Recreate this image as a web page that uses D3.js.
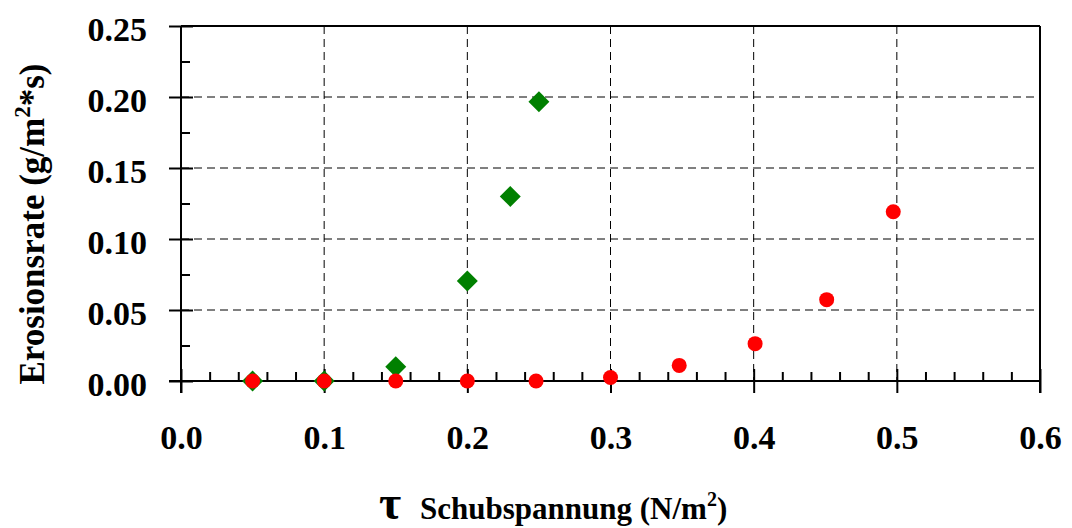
<!DOCTYPE html>
<html>
<head>
<meta charset="utf-8">
<script src="https://cdn.jsdelivr.net/npm/d3@7"></script>
<style>
  html, body { margin: 0; padding: 0; background: #fff; }
  svg { display: block; }
  text { font-family: "Liberation Serif", "Times New Roman", serif; font-weight: bold; fill: #000; }
</style>
</head>
<body>
<svg id="chart" width="1072" height="528"></svg>
<script>
// Shear stress (N/m²) and erosion rate (g/m²*s)
const diamondTau  = [0.05, 0.10, 0.15, 0.20, 0.23, 0.25];
const diamondRate = [0.000, 0.000, 0.010, 0.0705, 0.130, 0.1967];

const circleTau  = [0.05, 0.10, 0.15, 0.20, 0.248, 0.30, 0.348, 0.401, 0.451, 0.4975];
const circleRate = [0.000, 0.000, 0.000, 0.000, 0.000, 0.0025, 0.011, 0.0263, 0.0573, 0.1192];

const xTicks = [0.0, 0.1, 0.2, 0.3, 0.4, 0.5, 0.6];
const xMinorTicks = [0.02, 0.04, 0.06, 0.08, 0.12, 0.14, 0.16, 0.18, 0.22, 0.24, 0.26, 0.28,
                     0.32, 0.34, 0.36, 0.38, 0.42, 0.44, 0.46, 0.48, 0.52, 0.54, 0.56, 0.58];
const yTicks = [0.00, 0.05, 0.10, 0.15, 0.20, 0.25];
const yMinorTicks = [0.025, 0.075, 0.125, 0.175, 0.225];

const svg = d3.select("#chart");
const mLeft = 181, mRight = 1040, mTop = 26, mBottom = 381;

const x = d3.scaleLinear().domain([0, 0.6]).range([mLeft, mRight]);
const y = d3.scaleLinear().domain([0, 0.25]).range([mBottom, mTop]);

// dashed grid
const grid = svg.append("g").attr("stroke", "#000").attr("stroke-width", 1)
  .attr("stroke-dasharray", "8,5");
grid.selectAll("line.gx").data(xTicks.filter(d => d > 0 && d < 0.6)).join("line")
  .attr("class", "gx")
  .attr("x1", d => x(d)).attr("x2", d => x(d)).attr("y1", mTop).attr("y2", mBottom);
grid.selectAll("line.gy").data(yTicks.filter(d => d > 0 && d < 0.25)).join("line")
  .attr("class", "gy")
  .attr("y1", d => y(d)).attr("y2", d => y(d)).attr("x1", mLeft).attr("x2", mRight);

// plot frame (top and right)
svg.append("line").attr("x1", mLeft).attr("x2", mRight).attr("y1", mTop).attr("y2", mTop)
  .attr("stroke", "#000").attr("stroke-width", 2);
svg.append("line").attr("x1", mRight).attr("x2", mRight).attr("y1", mTop).attr("y2", mBottom + 12)
  .attr("stroke", "#000").attr("stroke-width", 2);

// y axis: major ticks cross the axis, minor ticks point inward
const yAxis = svg.append("g").attr("transform", `translate(${mLeft},0)`)
  .call(d3.axisLeft(y).tickValues(yTicks).tickSize(12).tickFormat(d3.format(".2f")));
yAxis.select(".domain").remove();
yAxis.selectAll(".tick line").attr("x1", -12).attr("x2", 12).attr("stroke-width", 2);
yAxis.selectAll(".tick text").attr("x", -34).attr("dy", null).attr("y", 14)
  .style("font-size", "34px").style("font-family", "'Liberation Serif', serif").style("font-weight", "bold");
const yMinor = svg.append("g").attr("transform", `translate(${mLeft},0)`)
  .call(d3.axisRight(y).tickValues(yMinorTicks).tickSize(9).tickFormat(""));
yMinor.select(".domain").remove();
yMinor.selectAll(".tick line").attr("stroke-width", 2);
svg.append("line").attr("x1", mLeft).attr("x2", mLeft).attr("y1", mTop).attr("y2", mBottom + 12)
  .attr("stroke", "#000").attr("stroke-width", 2);

// x axis at zero
const xAxis = svg.append("g").attr("transform", `translate(0,${mBottom})`)
  .call(d3.axisBottom(x).tickValues(xTicks).tickSize(12).tickFormat(d3.format(".1f")));
xAxis.select(".domain").remove();
xAxis.selectAll(".tick line").attr("y1", -12).attr("y2", 12).attr("stroke-width", 2);
xAxis.selectAll(".tick text").attr("dy", null).attr("y", 68)
  .style("font-size", "34px").style("font-family", "'Liberation Serif', serif").style("font-weight", "bold");
const xMinor = svg.append("g").attr("transform", `translate(0,${mBottom})`)
  .call(d3.axisTop(x).tickValues(xMinorTicks).tickSize(9).tickFormat(""));
xMinor.select(".domain").remove();
xMinor.selectAll(".tick line").attr("stroke-width", 2);
svg.append("line").attr("x1", mLeft - 12).attr("x2", mRight).attr("y1", mBottom).attr("y2", mBottom)
  .attr("stroke", "#000").attr("stroke-width", 2);

// green diamonds
const diamond = d3.symbol().type(d3.symbolSquare).size(220);
svg.append("g").selectAll("path").data(diamondTau.map((t, i) => [t, diamondRate[i]])).join("path")
  .attr("d", diamond)
  .attr("transform", d => `translate(${x(d[0])},${y(d[1])}) rotate(45)`)
  .attr("fill", "#008000");

// red circles
svg.append("g").selectAll("circle").data(circleTau.map((t, i) => [t, circleRate[i]])).join("circle")
  .attr("cx", d => x(d[0])).attr("cy", d => y(d[1])).attr("r", 7.5)
  .attr("fill", "#ff0000");

// axis titles
const yl = svg.append("text")
  .attr("transform", "translate(44,224) rotate(-90)")
  .attr("text-anchor", "middle")
  .style("font-size", "35px");
yl.append("tspan").text("Erosionsrate (g/m");
yl.append("tspan").attr("dy", -14).style("font-size", "23px").text("2");
yl.append("tspan").attr("dy", 14).text("*s)");

svg.append("text").attr("x", 379).attr("y", 519)
  .style("font-size", "48px").text("τ");
const xl = svg.append("text").attr("x", 420).attr("y", 519)
  .style("font-size", "31px");
xl.append("tspan").text("Schubspannung (N/m");
xl.append("tspan").attr("dy", -13).style("font-size", "20px").text("2");
xl.append("tspan").attr("dy", 13).text(")");
</script>
</body>
</html>
